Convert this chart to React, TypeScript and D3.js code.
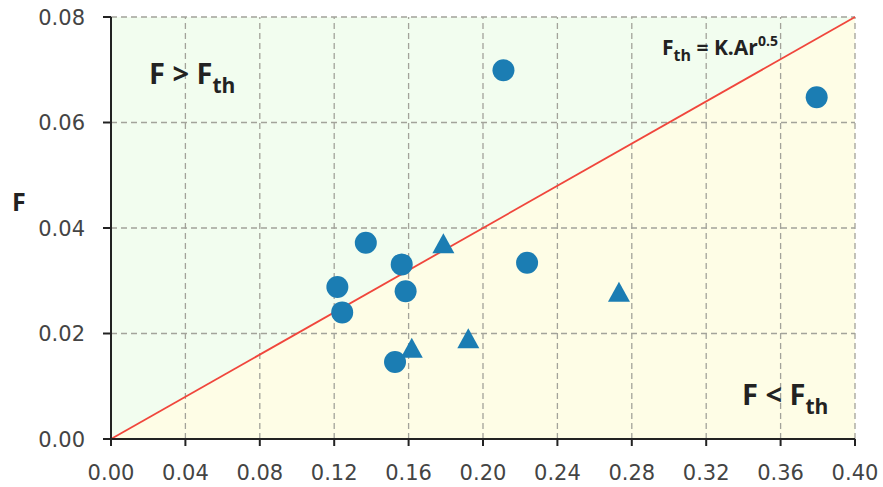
import React from "react";
import * as d3 from "d3";

const xTicks = [0, 0.04, 0.08, 0.12, 0.16, 0.2, 0.24, 0.28, 0.32, 0.36, 0.4];
const yTicks = [0, 0.02, 0.04, 0.06, 0.08];
const circleX = [0.211, 0.3794, 0.137, 0.1563, 0.1217, 0.1243, 0.1584, 0.2237, 0.1527];
const circleY = [0.0699, 0.0648, 0.0372, 0.0331, 0.0288, 0.024, 0.028, 0.0334, 0.0146];
const triX = [0.1787, 0.1617, 0.1921, 0.2731];
const triY = [0.0371, 0.0173, 0.0191, 0.0279];
const lineX = [0, 0.4];
const lineY = [0, 0.08];

const W = 883, H = 487;
const M = { left: 111, right: 855, top: 17, bottom: 439 };

export default function App() {
  const x = d3.scaleLinear().domain([0, 0.4]).range([M.left, M.right]);
  const y = d3.scaleLinear().domain([0, 0.08]).range([M.bottom, M.top]);
  const col = "#1b7db3";
  const tickFont = "DejaVu Sans";
  const boldFont = "Open Sans";
  const line = d3.line<number>().x((d, i) => x(lineX[i])).y((d, i) => y(lineY[i]));
  const greenPoly = [[0, 0], [0, 0.08], [0.4, 0.08]].map(p => `${x(p[0])},${y(p[1])}`).join(" ");
  const yellowPoly = [[0, 0], [0.4, 0], [0.4, 0.08]].map(p => `${x(p[0])},${y(p[1])}`).join(" ");
  const triPath = (cx: number, cy: number) => {
    const w = 22, h = 20;
    return `M${cx},${cy - h / 2}L${cx + w / 2},${cy + h / 2}L${cx - w / 2},${cy + h / 2}Z`;
  };
  return (
    <svg width={W} height={H} style={{ position: "absolute", left: 0, top: 0, background: "#fff" }}>
      <polygon points={greenPoly} fill="#f2fdef" />
      <polygon points={yellowPoly} fill="#fefde6" />
      {xTicks.slice(1).map((t, i) => (
        <line key={"gx" + i} x1={x(t)} x2={x(t)} y1={y(0)} y2={y(0.08)} stroke="#a3a39a" strokeWidth={1.3} strokeDasharray="6,4" />
      ))}
      {yTicks.slice(1).map((t, i) => (
        <line key={"gy" + i} x1={x(0)} x2={x(0.4)} y1={y(t)} y2={y(t)} stroke="#a3a39a" strokeWidth={1.3} strokeDasharray="6,4" />
      ))}
      <path d={line(lineX) || ""} stroke="#f0463c" strokeWidth={1.8} fill="none" />
      {/* axes */}
      <line x1={x(0)} x2={x(0)} y1={y(0)} y2={y(0.08)} stroke="#222" strokeWidth={2} />
      <line x1={x(0)} x2={x(0.4)} y1={y(0)} y2={y(0)} stroke="#222" strokeWidth={2} />
      {yTicks.map((t, i) => (
        <g key={"ty" + i}>
          <line x1={x(0) - 8} x2={x(0)} y1={y(t)} y2={y(t)} stroke="#222" strokeWidth={2} />
          <text x={85} y={y(t)} dy="0.36em" textAnchor="end" fontFamily={tickFont} fontSize={21} fill="#444">{t.toFixed(2)}</text>
        </g>
      ))}
      {xTicks.map((t, i) => (
        <g key={"tx" + i}>
          <line x1={x(t)} x2={x(t)} y1={y(0)} y2={y(0) + 7} stroke="#222" strokeWidth={2} />
          <text x={x(t)} y={480} textAnchor="middle" fontFamily={tickFont} fontSize={21} fill="#444">{t.toFixed(2)}</text>
        </g>
      ))}
      <text x={12} y={211} fontFamily={boldFont} fontWeight="bold" fontSize={25} fill="#222">F</text>
      {/* markers */}
      {circleX.map((cx, i) => (
        <circle key={"c" + i} cx={x(cx)} cy={y(circleY[i])} r={11} fill={col} />
      ))}
      {triX.map((tx, i) => (
        <path key={"t" + i} d={triPath(x(tx), y(triY[i]))} fill={col} />
      ))}
      {/* annotations */}
      <text x={149} y={84} fontFamily={boldFont} fontWeight="bold" fontSize={29} fill="#222">
        F &gt; F<tspan fontSize={21} dy={9}>th</tspan>
      </text>
      <text x={742} y={405} fontFamily={boldFont} fontWeight="bold" fontSize={29} fill="#222">
        F &lt; F<tspan fontSize={21} dy={9}>th</tspan>
      </text>
      <text x={662} y={55} fontFamily={boldFont} fontWeight="bold" fontSize={21} fill="#222">
        F<tspan fontSize={16} dy={6}>th</tspan><tspan dy={-6}> = K.Ar</tspan><tspan fontSize={14} dy={-9}>0.5</tspan>
      </text>
    </svg>
  );
}
